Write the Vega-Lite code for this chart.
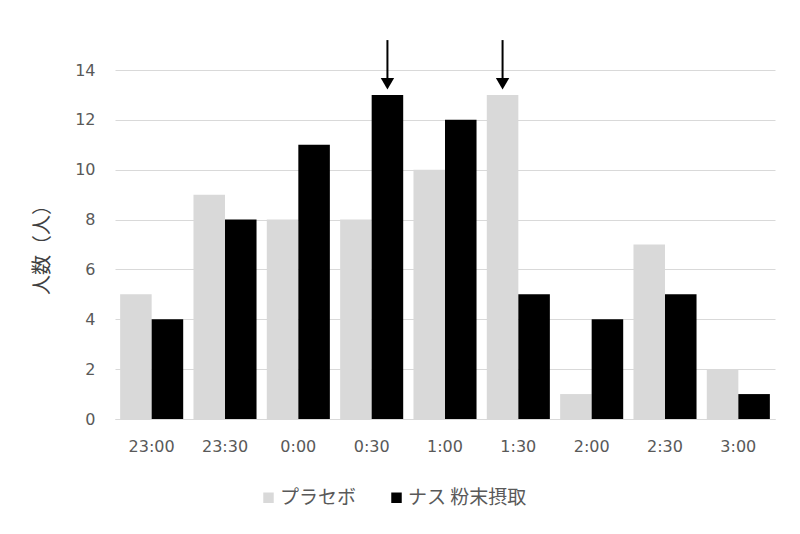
{
  "$schema": "https://vega.github.io/schema/vega-lite/v6.json",
  "autosize": {"type": "none"},
  "width": 660,
  "height": 349,
  "padding": {"left": 115, "top": 70, "right": 25, "bottom": 115},
  "background": "white",
  "config": {
    "view": {"stroke": null},
    "font": "Noto Sans CJK JP"
  },
  "datasets": {
    "bars": [
      {"time": "23:00", "group": "プラセボ", "count": 5},
      {"time": "23:00", "group": "ナス 粉末摂取", "count": 4},
      {"time": "23:30", "group": "プラセボ", "count": 9},
      {"time": "23:30", "group": "ナス 粉末摂取", "count": 8},
      {"time": "0:00", "group": "プラセボ", "count": 8},
      {"time": "0:00", "group": "ナス 粉末摂取", "count": 11},
      {"time": "0:30", "group": "プラセボ", "count": 8},
      {"time": "0:30", "group": "ナス 粉末摂取", "count": 13},
      {"time": "1:00", "group": "プラセボ", "count": 10},
      {"time": "1:00", "group": "ナス 粉末摂取", "count": 12},
      {"time": "1:30", "group": "プラセボ", "count": 13},
      {"time": "1:30", "group": "ナス 粉末摂取", "count": 5},
      {"time": "2:00", "group": "プラセボ", "count": 1},
      {"time": "2:00", "group": "ナス 粉末摂取", "count": 4},
      {"time": "2:30", "group": "プラセボ", "count": 7},
      {"time": "2:30", "group": "ナス 粉末摂取", "count": 5},
      {"time": "3:00", "group": "プラセボ", "count": 2},
      {"time": "3:00", "group": "ナス 粉末摂取", "count": 1}
    ],
    "arrows": [
      {"time": "0:30", "group": "ナス 粉末摂取", "top": 15.2, "bottom": 13.6, "head": 13.45},
      {"time": "1:30", "group": "プラセボ", "top": 15.2, "bottom": 13.6, "head": 13.45}
    ]
  },
  "encoding": {
    "x": {
      "field": "time", "type": "nominal", "sort": null,
      "scale": {"domain": ["23:00","23:30","0:00","0:30","1:00","1:30","2:00","2:30","3:00"], "paddingInner": 0.14, "paddingOuter": 0.07},
      "axis": {"title": null, "labelAngle": 0, "ticks": false, "domain": true, "domainColor": "#d9d9d9", "labelColor": "#595959", "labelFont": "DejaVu Sans", "labelFontSize": 16, "labelPadding": 19}
    },
    "xOffset": {
      "field": "group", "type": "nominal",
      "scale": {"domain": ["プラセボ", "ナス 粉末摂取"], "paddingInner": 0, "paddingOuter": 0}
    }
  },
  "layer": [
    {
      "data": {"name": "bars"},
      "mark": {"type": "bar"},
      "encoding": {
        "y": {
          "field": "count", "type": "quantitative",
          "scale": {"domain": [0, 14]},
          "axis": {"title": "人数（人）", "titleFontSize": 20, "titleColor": "#404040", "titleFontWeight": "normal", "titlePadding": 22, "values": [0,2,4,6,8,10,12,14], "ticks": false, "domain": false, "grid": true, "gridColor": "#d9d9d9", "labelColor": "#595959", "labelFont": "DejaVu Sans", "labelFontSize": 16, "labelPadding": 20}
        },
        "color": {
          "field": "group", "type": "nominal",
          "scale": {"domain": ["プラセボ", "ナス 粉末摂取"], "range": ["#d9d9d9", "#000000"]},
          "legend": {"title": null, "orient": "none", "direction": "horizontal", "legendX": 144, "legendY": 418, "symbolType": "square", "symbolSize": 110, "symbolStrokeWidth": 0, "labelFontSize": 19, "labelColor": "#595959", "columnPadding": 30, "labelOffset": 2}
        }
      }
    },
    {
      "data": {"name": "arrows"},
      "mark": {"type": "rule", "color": "black", "strokeWidth": 2, "clip": false},
      "encoding": {
        "y": {"field": "top", "type": "quantitative"},
        "y2": {"field": "bottom"}
      }
    },
    {
      "data": {"name": "arrows"},
      "mark": {"type": "point", "shape": "triangle-down", "filled": true, "color": "black", "size": 180, "opacity": 1, "clip": false},
      "encoding": {
        "y": {"field": "head", "type": "quantitative"}
      }
    }
  ]
}
